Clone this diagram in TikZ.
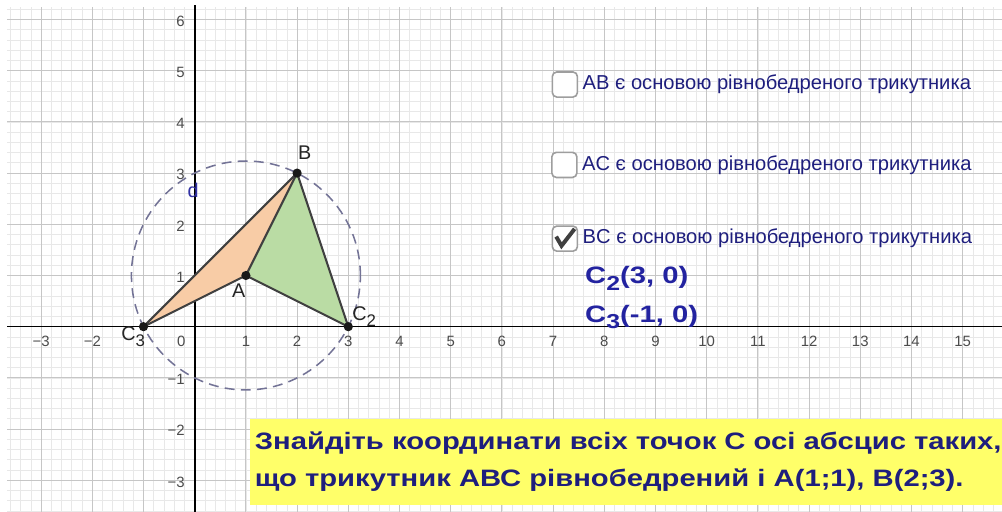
\documentclass[tikz,border=0pt]{standalone}
\usepackage{fontspec}
\setmainfont{Liberation Sans}
\newfontfamily\widebf[FakeStretch=1.23]{Liberation Sans}
\usetikzlibrary{positioning}

\definecolor{gridmajor}{RGB}{198,198,198}
\definecolor{gridminor}{RGB}{232,232,232}
\definecolor{navytext}{RGB}{30,30,125}
\definecolor{ansblue}{RGB}{35,35,160}
\definecolor{dblue}{RGB}{50,50,165}
\definecolor{peach}{RGB}{248,204,166}
\definecolor{leaf}{RGB}{186,220,164}
\definecolor{circgray}{RGB}{115,115,150}
\definecolor{taskyellow}{RGB}{255,255,105}

\newcommand\idx[1]{\raisebox{-0.55ex}{\scalebox{0.85}{#1}}}

\begin{document}
\begin{tikzpicture}[
  font=\fontsize{11.2}{13}\selectfont,
  ticklbl/.style={font=\fontsize{8.3}{9}\selectfont, text=black!70, inner sep=0pt,
                  text height=1.45ex, text depth=0pt},
  ptdot/.style={circle, fill=black!90, inner sep=0pt, minimum size=1.8mm},
  ptname/.style={font=\fontsize{11}{12}\selectfont, text=black!85, inner sep=0pt},
  tside/.style={draw=black!75, line width=1.15pt, line join=round},
  circ/.style={draw=circgray, line width=0.85pt, dash pattern=on 5.5pt off 3.5pt},
  chkbox/.style={rectangle, rounded corners=2.5pt, draw=black!38, line width=0.9pt,
                 fill=white, minimum size=0.49cm, inner sep=0pt},
  chktext/.style={text=navytext, inner sep=0pt},
  checkmark/.style={draw=black!75, line width=2.2pt},
  answer/.style={font=\widebf\bfseries\fontsize{13.2}{15}\selectfont, text=ansblue,
                 anchor=base west, inner sep=0pt},
  task/.style={fill=taskyellow, text=navytext, align=left, anchor=north west,
               font=\widebf\bfseries\fontsize{13.2}{20.6}\selectfont,
               inner xsep=2.5pt, inner ysep=7.5pt}
]
\useasboundingbox (-3.803,-3.619) rectangle (15.768,6.381);
\fill[white] (-3.803,-3.619) rectangle (15.768,6.381);

\draw[gridminor, line width=0.4pt] (-3.665,-3.619) grid[step=0.2] (15.768,6.245);
\draw[gridmajor, line width=0.55pt] (-3.665,-3.619) grid[step=1] (15.768,6.245);
\draw[black, line width=0.9pt] (-3.665,0) -- (15.768,0);
\draw[black, line width=0.9pt] (0,-3.619) -- (0,6.28);

\foreach \x in {1,...,15}
  \node[ticklbl] (xp\x) at (\x,-0.26) {\x};
\foreach \x in {2,3}
  \node[ticklbl] (xn\x) at (-\x,-0.26) {−\x};
\node[ticklbl] (org) at (-0.26,-0.26) {0};
\foreach \y in {1,...,6}
  \node[ticklbl, anchor=east] (yp\y) at (-0.19,\y) {\y};
\foreach \y in {1,2,3}
  \node[ticklbl, anchor=east] (yn\y) at (-0.19,-\y) {−\y};

\coordinate (pA) at (1,1);
\coordinate (pB) at (2,3);
\coordinate (pC2) at (3,0);
\coordinate (pC3) at (-1,0);

\fill[peach] (pC3) -- (pA) -- (pB) -- cycle;
\fill[leaf] (pA) -- (pB) -- (pC2) -- cycle;
\draw[circ] (pA) circle[radius={sqrt(5)}];
\draw[tside] (pC3) -- (pA);
\draw[tside] (pC3) -- (pB);
\draw[tside] (pA) -- (pB);
\draw[tside] (pB) -- (pC2);
\draw[tside] (pA) -- (pC2);

\node[ptdot] (A) at (pA) {};
\node[ptdot] (B) at (pB) {};
\node[ptdot] (C2) at (pC2) {};
\node[ptdot] (C3) at (pC3) {};

\node[ptname] (lblA) at ([shift={(-0.14,-0.29)}]pA) {A};
\node[ptname] (lblB) at ([shift={(0.15,0.39)}]pB) {B};
\node[ptname] (lblC2) at ([shift={(0.31,0.19)}]pC2) {C\idx{2}};
\node[ptname] (lblC3) at ([shift={(-0.2,-0.2)}]pC3) {C\idx{3}};
\node[ptname, text=dblue] (lblD) at (-0.03,2.66) {d};

\node[chkbox] (cb1) at (7.23,4.73) {};
\node[chktext, right=0.08cm of cb1] (cbt1) {AB є основою рівнобедреного трикутника};
\node[chkbox] (cb2) at (7.22,3.16) {};
\node[chktext, right=0.08cm of cb2] (cbt2) {AC є основою рівнобедреного трикутника};
\node[chkbox] (cb3) at (7.23,1.72) {};
\node[chktext, right=0.08cm of cb3] (cbt3) {BC є основою рівнобедреного трикутника};
\draw[checkmark] ([shift={(-0.17,0.04)}]cb3.center) -- ([shift={(-0.065,-0.14)}]cb3.center)
  -- ([shift={(0.19,0.19)}]cb3.center);

\node[answer] (ans2) at (7.62,0.85) {C\idx{2}(3, 0)};
\node[answer] (ans3) at (7.62,0.09) {C\idx{3}(-1, 0)};

\node[task] (taskbox) at (1.08,-1.79)
  {Знайдіть координати всіх точок С осі абсцис таких,\\
   що трикутник АВС рівнобедрений і А(1;1), В(2;3).};
\end{tikzpicture}
\end{document}
